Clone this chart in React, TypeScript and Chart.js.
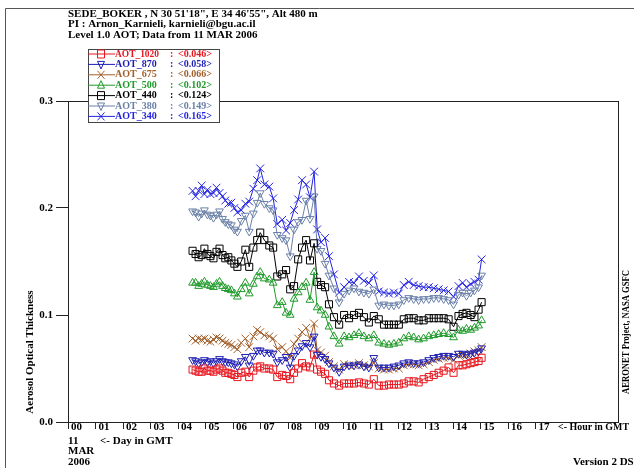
import React, { useEffect, useRef } from 'react';
import { Chart, registerables } from 'chart.js';

Chart.register(...registerables);

// Hours (GMT) of each measurement
const hours = [
  4.53, 4.64, 4.75, 4.86, 4.96, 5.07, 5.18, 5.29, 5.40, 5.51,
  5.62, 5.72, 5.83, 5.94, 6.05, 6.16, 6.30, 6.45, 6.59, 6.74,
  6.88, 6.99, 7.14, 7.32, 7.46, 7.61, 7.79, 7.93, 8.08, 8.22,
  8.37, 8.51, 8.66, 8.80, 8.95, 9.06, 9.20, 9.35, 9.49, 9.67,
  9.86, 10.04, 10.22, 10.40, 10.58, 10.76, 10.94, 11.12, 11.30, 11.49,
  11.67, 11.85, 12.03, 12.21, 12.39, 12.57, 12.75, 12.93, 13.12, 13.30,
  13.48, 13.66, 13.84, 14.02, 14.20, 14.35, 14.49, 14.64, 14.78, 14.93, 15.04,
];

const aot1020 = [
  0.049, 0.048, 0.047, 0.047, 0.050, 0.048, 0.048, 0.047, 0.049, 0.050,
  0.048, 0.046, 0.046, 0.045, 0.044, 0.042, 0.046, 0.047, 0.042, 0.048,
  0.051, 0.052, 0.050, 0.050, 0.049, 0.042, 0.044, 0.043, 0.040, 0.046,
  0.050, 0.055, 0.052, 0.051, 0.063, 0.049, 0.047, 0.045, 0.039, 0.036,
  0.034, 0.036, 0.036, 0.036, 0.037, 0.036, 0.035, 0.040, 0.034, 0.034,
  0.035, 0.035, 0.035, 0.036, 0.038, 0.038, 0.037, 0.040, 0.042, 0.044,
  0.046, 0.048, 0.051, 0.046, 0.053, 0.053, 0.054, 0.055, 0.056, 0.057, 0.060,
];
const aot870 = [
  0.058, 0.057, 0.055, 0.056, 0.058, 0.056, 0.057, 0.055, 0.057, 0.059,
  0.057, 0.056, 0.056, 0.055, 0.054, 0.052, 0.057, 0.061, 0.053, 0.062,
  0.067, 0.067, 0.065, 0.065, 0.064, 0.056, 0.058, 0.061, 0.051, 0.062,
  0.067, 0.071, 0.074, 0.070, 0.080, 0.063, 0.061, 0.059, 0.055, 0.051,
  0.047, 0.052, 0.053, 0.053, 0.054, 0.052, 0.051, 0.060, 0.051, 0.051,
  0.051, 0.052, 0.053, 0.055, 0.056, 0.055, 0.055, 0.056, 0.058, 0.060,
  0.061, 0.062, 0.062, 0.061, 0.064, 0.064, 0.063, 0.064, 0.065, 0.066, 0.069,
];
const aot675 = [
  0.078, 0.076, 0.078, 0.077, 0.078, 0.076, 0.075, 0.077, 0.079, 0.078,
  0.076, 0.074, 0.073, 0.072, 0.070, 0.068, 0.074, 0.078, 0.070, 0.080,
  0.086, 0.084, 0.081, 0.080, 0.078, 0.068, 0.070, 0.066, 0.060, 0.073,
  0.078, 0.084, 0.088, 0.078, 0.092, 0.067, 0.065, 0.062, 0.056, 0.052,
  0.049, 0.054, 0.053, 0.053, 0.055, 0.053, 0.052, 0.055, 0.050, 0.049,
  0.049, 0.050, 0.050, 0.053, 0.054, 0.054, 0.053, 0.054, 0.056, 0.058,
  0.059, 0.060, 0.060, 0.058, 0.062, 0.063, 0.062, 0.064, 0.066, 0.067, 0.070,
];
const aot500 = [
  0.130, 0.130, 0.127, 0.129, 0.131, 0.128, 0.127, 0.126, 0.129, 0.131,
  0.127, 0.125, 0.124, 0.123, 0.120, 0.117, 0.124, 0.130, 0.120, 0.129,
  0.136, 0.140, 0.134, 0.133, 0.130, 0.109, 0.112, 0.102, 0.100, 0.115,
  0.121, 0.126, 0.130, 0.114, 0.140, 0.107, 0.104, 0.100, 0.089, 0.080,
  0.073, 0.080, 0.079, 0.081, 0.083, 0.080, 0.078, 0.081, 0.074, 0.073,
  0.072, 0.073, 0.074, 0.078, 0.080, 0.079, 0.077, 0.078, 0.080, 0.081,
  0.082, 0.083, 0.082, 0.079, 0.086, 0.085, 0.087, 0.086, 0.088, 0.090, 0.095,
];
const aot440 = [
  0.160, 0.157, 0.154, 0.156, 0.162, 0.157, 0.155, 0.153, 0.159, 0.162,
  0.156, 0.153, 0.154, 0.151, 0.148, 0.145, 0.150, 0.161, 0.145, 0.163,
  0.170, 0.177, 0.170, 0.165, 0.163, 0.136, 0.138, 0.142, 0.124, 0.127,
  0.152, 0.163, 0.170, 0.151, 0.167, 0.131, 0.128, 0.126, 0.110, 0.098,
  0.091, 0.100, 0.097, 0.100, 0.102, 0.098, 0.093, 0.099, 0.096, 0.091,
  0.091, 0.091, 0.091, 0.096, 0.097, 0.097, 0.095, 0.095, 0.097, 0.097,
  0.097, 0.097, 0.096, 0.089, 0.099, 0.101, 0.102, 0.100, 0.098, 0.105, 0.112,
];
const aot380 = [
  0.197, 0.196, 0.192, 0.195, 0.198, 0.194, 0.193, 0.191, 0.194, 0.197,
  0.190, 0.187, 0.185, 0.184, 0.180, 0.178, 0.188, 0.193, 0.178, 0.195,
  0.205, 0.214, 0.204, 0.200, 0.198, 0.175, 0.172, 0.170, 0.155, 0.180,
  0.187, 0.189, 0.207, 0.190, 0.211, 0.162, 0.160, 0.148, 0.137, 0.125,
  0.112, 0.120, 0.123, 0.125, 0.122, 0.121, 0.120, 0.124, 0.109, 0.110,
  0.109, 0.109, 0.110, 0.114, 0.116, 0.115, 0.114, 0.115, 0.115, 0.116,
  0.116, 0.115, 0.114, 0.110, 0.119, 0.121, 0.118, 0.121, 0.123, 0.126, 0.137,
];
const aot340 = [
  0.216, 0.211, 0.216, 0.221, 0.213, 0.217, 0.213, 0.214, 0.219, 0.214,
  0.211, 0.207, 0.204, 0.205, 0.200, 0.196, 0.198, 0.204, 0.206, 0.218,
  0.226, 0.237, 0.222, 0.220, 0.209, 0.185, 0.189, 0.179, 0.186, 0.198,
  0.208, 0.226, 0.222, 0.210, 0.234, 0.180, 0.168, 0.172, 0.155, 0.138,
  0.121, 0.126, 0.131, 0.130, 0.136, 0.132, 0.130, 0.137, 0.122, 0.121,
  0.120, 0.121, 0.120, 0.128, 0.131, 0.128, 0.127, 0.126, 0.126, 0.125,
  0.124, 0.123, 0.122, 0.117, 0.127, 0.130, 0.126, 0.129, 0.131, 0.133, 0.152,
];

const seriesNames = ['AOT_1020', 'AOT_870', 'AOT_675', 'AOT_500', 'AOT_440', 'AOT_380', 'AOT_340'];
const seriesMeans = ['<0.046>', '<0.058>', '<0.066>', '<0.102>', '<0.124>', '<0.149>', '<0.165>'];
const seriesValues = [aot1020, aot870, aot675, aot500, aot440, aot380, aot340];
const seriesColors = ['#e8161e', '#1e1eb4', '#a2602c', '#1f9a2a', '#000000', '#6a80a8', '#2424e0'];
const seriesMarkers = ['rect', 'triangle', 'crossRot', 'triangle', 'rect', 'triangle', 'crossRot'];
const seriesRotation = [0, 180, 0, 0, 0, 180, 0];

const hourTicks = [0, 1, 2, 3, 4, 5, 6, 7, 8, 9, 10, 11, 12, 13, 14, 15, 16, 17];
const hourLabels = ['00', '01', '02', '03', '04', '05', '06', '07', '08', '09', '10', '11', '12', '13', '14', '15', '16', '17'];
const aotTicks = [0, 0.1, 0.2, 0.3];
const aotLabels = ['0.0', '0.1', '0.2', '0.3'];

const headerLines = [
  'SEDE_BOKER , N 30 51\'18", E 34 46\'55", Alt 480 m',
  'PI : Arnon_Karnieli, karnieli@bgu.ac.il',
  'Level 1.0 AOT; Data from 11 MAR 2006',
];
const dayLines = ['11', 'MAR', '2006'];

const FONT_FAMILY = '"Liberation Serif", "DejaVu Serif", serif';
const FONT = `bold 11px ${FONT_FAMILY}`;

function drawMarker(ctx: CanvasRenderingContext2D, kind: string, rot: number, x: number, y: number, color: string) {
  ctx.save();
  ctx.strokeStyle = color;
  ctx.lineWidth = 1;
  ctx.beginPath();
  if (kind === 'rect') {
    ctx.rect(x - 3.5, y - 4, 7, 8);
  } else if (kind === 'triangle') {
    const s = rot === 180 ? -1 : 1;
    ctx.moveTo(x, y - 4.5 * s);
    ctx.lineTo(x - 3.5, y + 3 * s);
    ctx.lineTo(x + 3.5, y + 3 * s);
    ctx.closePath();
  } else {
    ctx.moveTo(x - 3.5, y - 4);
    ctx.lineTo(x + 3.5, y + 4);
    ctx.moveTo(x + 3.5, y - 4);
    ctx.lineTo(x - 3.5, y + 4);
  }
  ctx.stroke();
  ctx.restore();
}

const decorPlugin = {
  id: 'aeronetDecor',
  afterDraw(chart: any) {
    const ctx: CanvasRenderingContext2D = chart.ctx;
    const area = chart.chartArea;
    ctx.save();
    // outer frame (left and top)
    ctx.strokeStyle = '#555';
    ctx.lineWidth = 1;
    ctx.beginPath();
    ctx.moveTo(5.5, 468);
    ctx.lineTo(5.5, 8.5);
    ctx.lineTo(634, 8.5);
    ctx.stroke();

    // plot box
    ctx.strokeStyle = '#222';
    ctx.strokeRect(Math.round(area.left) + 0.5, Math.round(area.top) + 0.5,
      Math.round(area.right - area.left), Math.round(area.bottom - area.top));

    ctx.font = FONT;
    ctx.textBaseline = 'middle';
    ctx.fillStyle = '#000';
    ctx.textAlign = 'left';
    // header
    const hy = [14, 24.5, 35];
    headerLines.forEach((t, i) => ctx.fillText(t, 68, hy[i]));

    // legend box
    const bx = 88, by = 49, bw = 131, bh = 73;
    ctx.fillStyle = '#fff';
    ctx.fillRect(bx, by, bw, bh);
    ctx.strokeStyle = '#444';
    ctx.strokeRect(bx + 0.5, by + 0.5, bw, bh);
    const rowH = 10.4;
    seriesNames.forEach((name, i) => {
      const y = by + 5 + i * rowH;
      const c = seriesColors[i];
      ctx.strokeStyle = c;
      ctx.beginPath();
      ctx.moveTo(bx, y);
      ctx.lineTo(bx + 27, y);
      ctx.stroke();
      drawMarker(ctx, seriesMarkers[i], seriesRotation[i], bx + 13, y, c);
      ctx.fillStyle = c;
      ctx.font = `bold 10px ${FONT_FAMILY}`;
      ctx.textAlign = 'left';
      ctx.fillText(name, bx + 27, y, 44);
      ctx.fillText(':', bx + 82, y);
      ctx.fillText(seriesMeans[i], bx + 90, y, 38);
    });

    ctx.font = FONT;
    ctx.fillStyle = '#000';
    ctx.textAlign = 'left';
    // day labels under the axis
    const dy = [441, 451.5, 462];
    dayLines.forEach((t, i) => ctx.fillText(t, 68, dy[i]));
    ctx.fillText('<- Day in GMT', 100, 441);
    ctx.fillText('<- Hour in GMT', 558, 427, 71);
    ctx.fillText('Version 2 DS', 573, 462);

    // y title
    ctx.save();
    ctx.translate(30, 352);
    ctx.rotate(-Math.PI / 2);
    ctx.textAlign = 'center';
    ctx.fillText('Aerosol Optical Thickness', 0, 0, 126);
    ctx.restore();

    // right vertical credit
    ctx.save();
    ctx.translate(626, 332);
    ctx.rotate(-Math.PI / 2);
    ctx.textAlign = 'center';
    ctx.fillText('AERONET Project, NASA GSFC', 0, 0, 124);
    ctx.restore();

    ctx.restore();
  },
};

export default function App() {
  const canvasRef = useRef<HTMLCanvasElement | null>(null);

  useEffect(() => {
    if (!canvasRef.current) return;
    const tickFont = { family: FONT_FAMILY, size: 11, weight: 'bold' as const };
    const datasets = seriesNames.map((name, i) => ({
      label: name,
      data: hours.map((h, j) => ({ x: h, y: seriesValues[i][j] })),
      borderColor: seriesColors[i],
      backgroundColor: 'rgba(0,0,0,0)',
      borderWidth: 1,
      pointStyle: seriesMarkers[i] as any,
      pointRotation: seriesRotation[i],
      pointRadius: seriesMarkers[i] === 'rect' ? 5 : seriesMarkers[i] === 'triangle' ? 4.5 : 5.5,
      pointBorderWidth: 1,
      pointBorderColor: seriesColors[i],
      pointBackgroundColor: 'rgba(0,0,0,0)',
      tension: 0,
    }));

    const chart = new Chart(canvasRef.current, {
      type: 'line',
      data: { datasets },
      options: {
        animation: false,
        responsive: false,
        devicePixelRatio: 1,
        layout: { padding: { top: 101, right: 16, left: 0, bottom: 0 } },
        plugins: { legend: { display: false }, tooltip: { enabled: false }, title: { display: false } },
        scales: {
          x: {
            type: 'linear',
            min: 0,
            max: 20,
            afterBuildTicks: (axis: any) => {
              axis.ticks = hourTicks.map((v) => ({ value: v }));
            },
            afterFit: (s: any) => {
              s.height = 46;
            },
            ticks: {
              callback: (v: any) => {
                const k = hourTicks.indexOf(Number(v));
                return k >= 0 ? hourLabels[k] : '';
              },
              align: 'start',
              labelOffset: 3,
              padding: -8,
              autoSkip: false,
              maxRotation: 0,
              minRotation: 0,
              color: '#000',
              font: tickFont,
            },
            grid: { drawOnChartArea: false, drawTicks: true, tickLength: 7, color: '#222' },
            border: { display: true, color: '#222' },
          },
          y: {
            type: 'linear',
            min: 0,
            max: 0.3,
            afterBuildTicks: (axis: any) => {
              axis.ticks = aotTicks.map((v) => ({ value: v }));
            },
            afterFit: (s: any) => {
              s.width = 68;
            },
            ticks: {
              callback: (v: any) => {
                const k = aotTicks.indexOf(Number(v));
                return k >= 0 ? aotLabels[k] : '';
              },
              padding: 3,
              color: '#000',
              font: tickFont,
            },
            grid: { drawOnChartArea: false, drawTicks: true, tickLength: 12, color: '#222' },
            border: { display: true, color: '#222' },
          },
        },
      },
      plugins: [decorPlugin],
    });
    return () => chart.destroy();
  }, []);

  return (
    <div style={{ position: 'fixed', left: 0, top: 0, width: 634, height: 468, background: '#fff' }}>
      <canvas ref={canvasRef} width={634} height={468} style={{ display: 'block', width: 634, height: 468 }} />
    </div>
  );
}
